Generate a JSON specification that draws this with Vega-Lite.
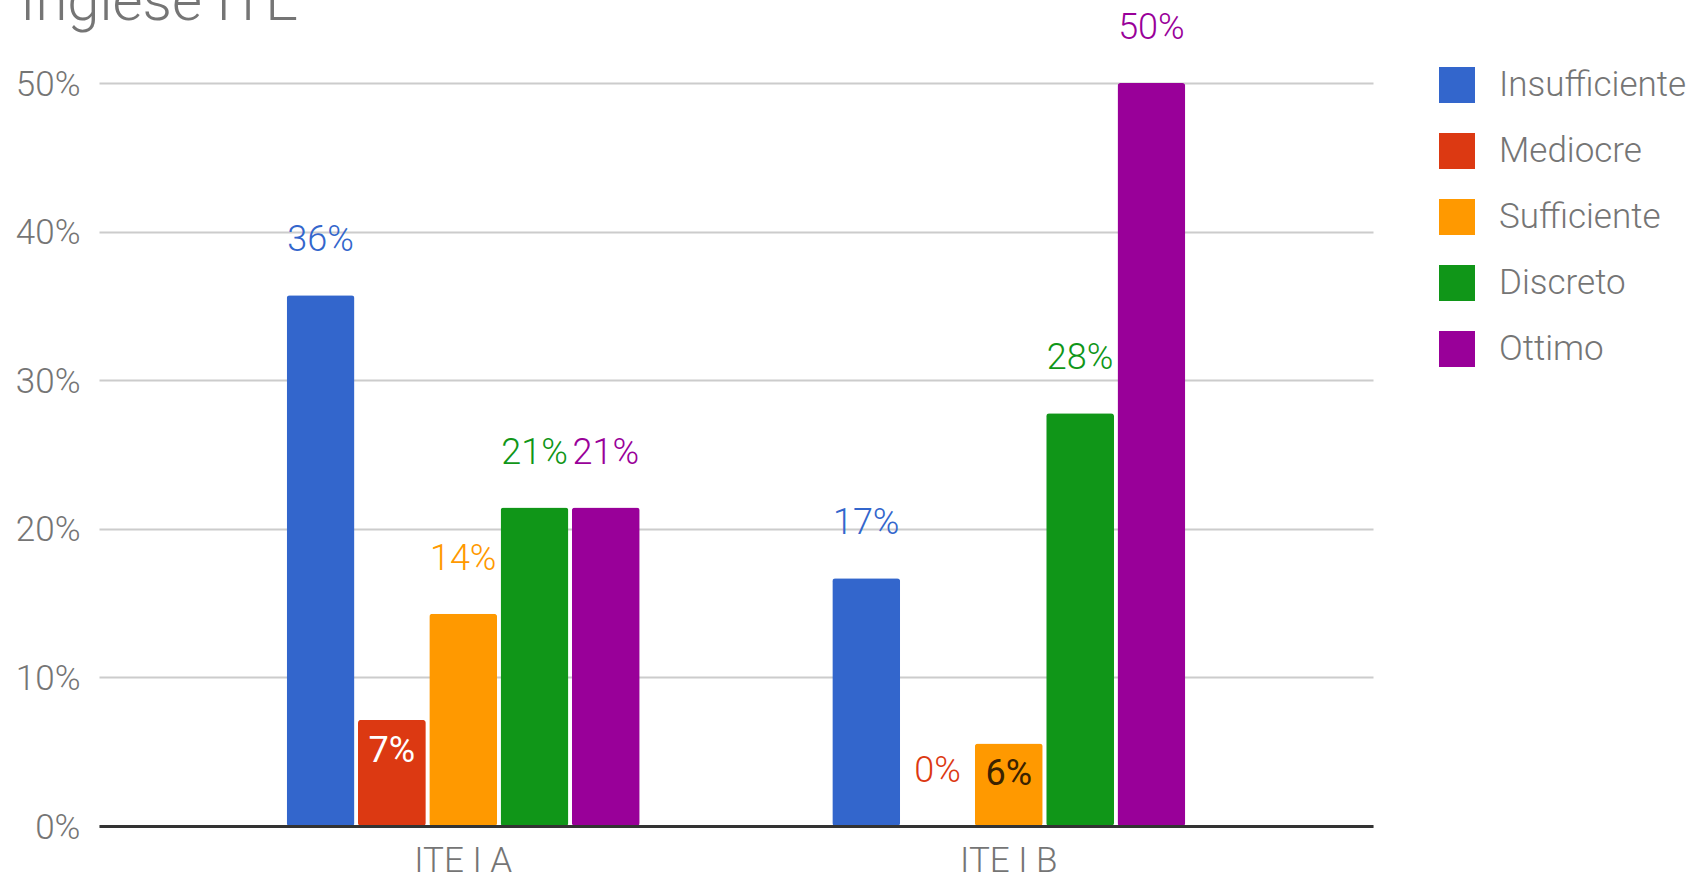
{
  "$schema": "https://vega.github.io/schema/vega-lite/v6.json",
  "autosize": {"type": "none"},
  "padding": {"left": 99, "top": 83, "right": 323, "bottom": 50},
  "width": 1274,
  "height": 743,
  "background": "white",
  "title": {"text": "Inglese ITE", "anchor": "start", "frame": "group", "font": "Roboto", "fontSize": 58, "fontWeight": 300, "color": "#757575", "baseline": "alphabetic", "offset": -68, "dx": -79},
  "config": {"view": {"stroke": null}, "font": "Roboto"},
  "data": {"values": [
    {"Classe": "ITE I A", "Livello": "Insufficiente", "Valore": 0.3571},
    {"Classe": "ITE I A", "Livello": "Mediocre", "Valore": 0.0714},
    {"Classe": "ITE I A", "Livello": "Sufficiente", "Valore": 0.1429},
    {"Classe": "ITE I A", "Livello": "Discreto", "Valore": 0.2143},
    {"Classe": "ITE I A", "Livello": "Ottimo", "Valore": 0.2143},
    {"Classe": "ITE I B", "Livello": "Insufficiente", "Valore": 0.1667},
    {"Classe": "ITE I B", "Livello": "Mediocre", "Valore": 0},
    {"Classe": "ITE I B", "Livello": "Sufficiente", "Valore": 0.0556},
    {"Classe": "ITE I B", "Livello": "Discreto", "Valore": 0.2778},
    {"Classe": "ITE I B", "Livello": "Ottimo", "Valore": 0.5}
  ]},
  "encoding": {
    "x": {"field": "Classe", "type": "nominal", "sort": null,
      "scale": {"paddingInner": 0.353, "paddingOuter": 0.344},
      "axis": {"title": null, "domainColor": "#333333", "domainWidth": 3, "ticks": false, "labelPadding": 17, "labelFontSize": 35, "labelFont": "Roboto", "labelFontWeight": 300, "labelColor": "#757575", "labelAngle": 0, "zindex": 1}},
    "xOffset": {"field": "Livello", "type": "nominal", "sort": ["Insufficiente", "Mediocre", "Sufficiente", "Discreto", "Ottimo"],
      "scale": {"paddingInner": 0.049, "paddingOuter": 0}},
    "y": {"field": "Valore", "type": "quantitative",
      "scale": {"domain": [0, 0.5], "nice": false},
      "axis": {"title": null, "format": ".0%", "values": [0, 0.1, 0.2, 0.3, 0.4, 0.5], "domain": false, "ticks": false, "labelPadding": 19, "labelOffset": 1, "labelFontSize": 35, "labelFont": "Roboto", "labelFontWeight": 300, "labelColor": "#757575", "gridColor": "#cccccc", "gridWidth": 2}}
  },
  "layer": [
    {
      "mark": {"type": "bar", "cornerRadius": 3},
      "encoding": {
        "color": {"field": "Livello", "type": "nominal",
          "scale": {"domain": ["Insufficiente", "Mediocre", "Sufficiente", "Discreto", "Ottimo"], "range": ["#3366cc", "#dc3912", "#ff9900", "#109618", "#990099"]},
          "legend": {"orient": "none", "legendX": 1340, "legendY": -16, "title": null, "symbolType": "square", "symbolSize": 1296, "symbolStrokeWidth": 0, "symbolOpacity": 1, "labelFontSize": 35, "labelFont": "Roboto", "labelFontWeight": 300, "labelColor": "#757575", "labelOffset": 24, "labelLimit": 0, "rowPadding": 30, "padding": 0}}
      }
    },
    {
      "transform": [{"filter": "!((datum.Classe === 'ITE I A' && datum.Livello === 'Mediocre') || (datum.Classe === 'ITE I B' && datum.Livello === 'Sufficiente'))"}],
      "mark": {"type": "text", "baseline": "alphabetic", "dy": -44, "fontSize": 36, "font": "Roboto", "fontWeight": 300},
      "encoding": {
        "text": {"field": "Valore", "type": "quantitative", "format": ".0%"},
        "color": {"field": "Livello", "type": "nominal", "legend": null}
      }
    },
    {
      "transform": [{"filter": "(datum.Classe === 'ITE I A' && datum.Livello === 'Mediocre') || (datum.Classe === 'ITE I B' && datum.Livello === 'Sufficiente')"}],
      "mark": {"type": "text", "baseline": "alphabetic", "dy": 42, "fontSize": 36, "font": "Roboto"},
      "encoding": {
        "text": {"field": "Valore", "type": "quantitative", "format": ".0%"},
        "color": {"condition": {"test": "datum.Livello === 'Mediocre'", "value": "#ffffff"}, "value": "#3a2200"}
      }
    }
  ]
}
